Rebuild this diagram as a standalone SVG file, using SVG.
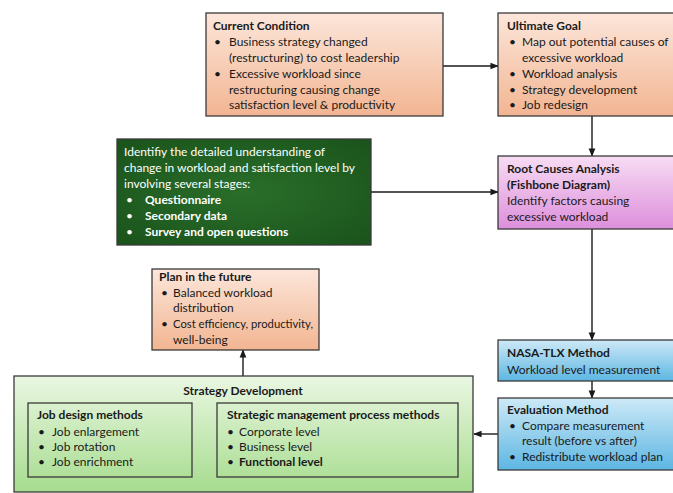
<svg xmlns="http://www.w3.org/2000/svg" width="673" height="493" viewBox="0 0 673 493">
  <defs>
    <linearGradient id="peach" x1="0" y1="0" x2="0" y2="1">
      <stop offset="0" stop-color="#fce6da"/>
      <stop offset="1" stop-color="#f2b592"/>
    </linearGradient>
    <linearGradient id="pink" x1="0" y1="0" x2="0" y2="1">
      <stop offset="0" stop-color="#f7dcf3"/>
      <stop offset="1" stop-color="#dd8fdc"/>
    </linearGradient>
    <linearGradient id="blue" x1="0" y1="0" x2="0" y2="1">
      <stop offset="0" stop-color="#cde9f7"/>
      <stop offset="1" stop-color="#5db6e2"/>
    </linearGradient>
    <linearGradient id="lgreen" x1="0" y1="0" x2="0" y2="1">
      <stop offset="0" stop-color="#eaf7e2"/>
      <stop offset="1" stop-color="#a6dc8e"/>
    </linearGradient>
    <radialGradient id="dgreen" cx="0.5" cy="0.5" r="0.7">
      <stop offset="0" stop-color="#2a6e2a"/>
      <stop offset="1" stop-color="#1a531b"/>
    </radialGradient>
    <marker id="arrow" viewBox="0 0 10 10" refX="9" refY="5" markerWidth="6" markerHeight="6" orient="auto">
      <path d="M0,1 L10,5 L0,9 z" fill="#1a1a1a"/>
    </marker>
  </defs>
  <style>
    .box { stroke: #3a3a3a; stroke-width: 1.3; }
    text { font-family: Lato, "Open Sans", sans-serif; font-size: 12px; fill: #1a1a1a; }
    .b { font-weight: bold; }
    .w { fill: #ffffff; }
    .conn { stroke: #1a1a1a; stroke-width: 1.4; fill: none; marker-end: url(#arrow); }
  </style>

  <g id="connectors">
    <line class="conn" x1="443" y1="66" x2="498" y2="66"/>
    <line class="conn" x1="592" y1="116" x2="592" y2="156"/>
    <line class="conn" x1="371" y1="192" x2="498" y2="192"/>
    <line class="conn" x1="592" y1="229" x2="592" y2="340"/>
    <line class="conn" x1="592" y1="381" x2="592" y2="398"/>
    <line class="conn" x1="498" y1="434" x2="474" y2="434"/>
    <line class="conn" x1="243" y1="376" x2="243" y2="350"/>
  </g>

  <g id="current-condition">
    <rect class="box" x="206" y="13" width="237" height="103" fill="url(#peach)"/>
    <text x="213" y="30" class="b">Current Condition</text>
    <text x="214" y="46">•</text><text x="229" y="46">Business strategy changed</text>
    <text x="229" y="62">(restructuring) to cost leadership</text>
    <text x="214" y="78">•</text><text x="229" y="78">Excessive workload since</text>
    <text x="229" y="94">restructuring causing change</text>
    <text x="229" y="109">satisfaction level &amp; productivity</text>
  </g>

  <g id="ultimate-goal">
    <rect class="box" x="498" y="13" width="180" height="103" fill="url(#peach)"/>
    <text x="507" y="30" class="b">Ultimate Goal</text>
    <text x="509" y="46">•</text><text x="522" y="46">Map out potential causes of</text>
    <text x="522" y="62">excessive workload</text>
    <text x="509" y="78">•</text><text x="522" y="78">Workload analysis</text>
    <text x="509" y="94">•</text><text x="522" y="94">Strategy development</text>
    <text x="509" y="109">•</text><text x="522" y="109">Job redesign</text>
  </g>

  <g id="detailed-understanding">
    <rect class="box" x="117" y="139" width="254" height="106" fill="url(#dgreen)"/>
    <text x="124" y="156" class="w">Identifiy the detailed understanding of</text>
    <text x="124" y="172" class="w">change in workload and satisfaction level by</text>
    <text x="124" y="188" class="w">involving several stages:</text>
    <text x="126" y="204" class="w">•</text><text x="145" y="204" class="w b">Questionnaire</text>
    <text x="126" y="220" class="w">•</text><text x="145" y="220" class="w b">Secondary data</text>
    <text x="126" y="236" class="w">•</text><text x="145" y="236" class="w b">Survey and open questions</text>
  </g>

  <g id="root-causes">
    <rect class="box" x="498" y="156" width="180" height="73" fill="url(#pink)"/>
    <text x="507" y="173" class="b">Root Causes Analysis</text>
    <text x="507" y="189" class="b">(Fishbone Diagram)</text>
    <text x="507" y="205">Identify factors causing</text>
    <text x="507" y="221">excessive workload</text>
  </g>

  <g id="plan-future">
    <rect class="box" x="152" y="269" width="167" height="81" fill="url(#peach)"/>
    <text x="159" y="281" class="b">Plan in the future</text>
    <text x="161" y="297">•</text><text x="173" y="297">Balanced workload</text>
    <text x="173" y="312">distribution</text>
    <text x="161" y="328">•</text><text x="173" y="328" textLength="140" lengthAdjust="spacingAndGlyphs">Cost efficiency, productivity,</text>
    <text x="173" y="344">well-being</text>
  </g>

  <g id="nasa-tlx">
    <rect class="box" x="498" y="340" width="180" height="41" fill="url(#blue)"/>
    <text x="507" y="357" class="b">NASA-TLX Method</text>
    <text x="507" y="374">Workload level measurement</text>
  </g>

  <g id="evaluation">
    <rect class="box" x="498" y="398" width="180" height="72" fill="url(#blue)"/>
    <text x="507" y="414" class="b">Evaluation Method</text>
    <text x="509" y="430">•</text><text x="522" y="430">Compare measurement</text>
    <text x="522" y="445">result (before vs after)</text>
    <text x="509" y="461">•</text><text x="522" y="461">Redistribute workload plan</text>
  </g>

  <g id="strategy-development">
    <rect class="box" x="14" y="376" width="459" height="116" fill="url(#lgreen)"/>
    <text x="243" y="395" class="b" text-anchor="middle">Strategy Development</text>
    <g id="job-design">
      <rect class="box" x="28" y="403" width="164" height="74" fill="none"/>
      <text x="37" y="419" class="b">Job design methods</text>
      <text x="38" y="436">•</text><text x="52" y="436">Job enlargement</text>
      <text x="38" y="451">•</text><text x="52" y="451">Job rotation</text>
      <text x="38" y="466">•</text><text x="52" y="466">Job enrichment</text>
    </g>
    <g id="strategic-management">
      <rect class="box" x="217" y="403" width="241" height="74" fill="none"/>
      <text x="227" y="419" class="b">Strategic management process methods</text>
      <text x="227" y="436">•</text><text x="239" y="436">Corporate level</text>
      <text x="227" y="451">•</text><text x="239" y="451">Business level</text>
      <text x="227" y="466">•</text><text x="239" y="466" class="b">Functional level</text>
    </g>
  </g>
</svg>
